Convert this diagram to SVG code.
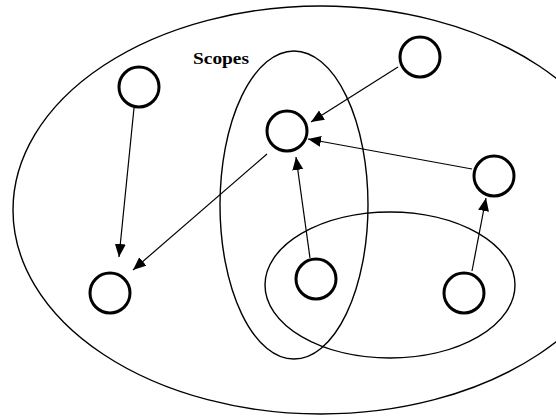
<svg xmlns="http://www.w3.org/2000/svg" width="556" height="417" viewBox="0 0 556 417">
<style>
.scope{fill:none;stroke:#000;stroke-width:1.4}
.node{fill:#fff;stroke:#000;stroke-width:3}
.edge{stroke:#000;stroke-width:1.2;fill:none;marker-end:url(#arr)}
.lbl{font-family:"Liberation Serif",serif;font-weight:bold;font-size:16px;fill:#000}
</style>
<defs>
<marker id="arr" markerUnits="userSpaceOnUse" markerWidth="14" markerHeight="12" refX="13" refY="5.5" orient="auto">
<path d="M0,0 L13,5.5 L0,11 z" fill="#000"/>
</marker>
</defs>
<rect width="556" height="417" fill="#fff"/>
<g id="scopes">
<ellipse class="scope" cx="321" cy="210" rx="308" ry="204"/>
<ellipse class="scope" cx="294" cy="205" rx="74" ry="154"/>
<ellipse class="scope" cx="390" cy="285" rx="125" ry="73"/>
<text class="lbl" x="193" y="64" textLength="56" lengthAdjust="spacingAndGlyphs">Scopes</text>
</g>
<g id="connectors">
<line class="edge" x1="134" y1="108" x2="119" y2="257"/>
<line class="edge" x1="267" y1="154" x2="133" y2="270"/>
<line class="edge" x1="398" y1="67" x2="311" y2="122"/>
<line class="edge" x1="472" y1="169" x2="308" y2="139"/>
<line class="edge" x1="310" y1="258" x2="296" y2="157"/>
<line class="edge" x1="472" y1="271" x2="486" y2="198"/>
</g>
<g id="nodeA"><circle class="node" cx="139" cy="87" r="20"/></g>
<g id="nodeB"><circle class="node" cx="420" cy="57" r="20"/></g>
<g id="nodeC"><circle class="node" cx="287" cy="131" r="20"/></g>
<g id="nodeD"><circle class="node" cx="494" cy="176" r="20"/></g>
<g id="nodeE"><circle class="node" cx="110" cy="293" r="20"/></g>
<g id="nodeF"><circle class="node" cx="316" cy="279" r="20"/></g>
<g id="nodeG"><circle class="node" cx="464" cy="293" r="20"/></g>
</svg>
